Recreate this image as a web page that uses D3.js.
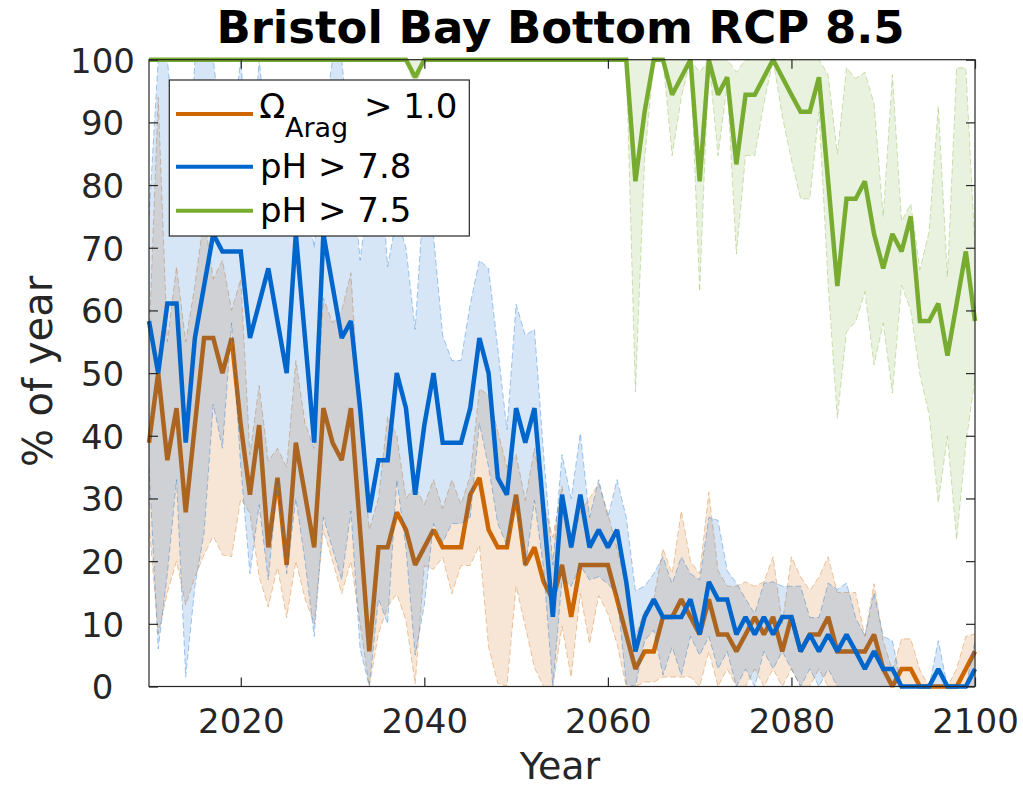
<!DOCTYPE html>
<html>
<head>
<meta charset="utf-8">
<script src="https://cdn.jsdelivr.net/npm/d3@7/dist/d3.min.js"></script>
<style>
  html, body { margin: 0; padding: 0; background: #fff; }
  svg { display: block; font-family: "DejaVu Sans", sans-serif; }
</style>
</head>
<body>
<svg id="chart" width="1023" height="788"></svg>
<script>
// ---------------- DATA ----------------
const years = [2010,2011,2012,2013,2014,2015,2016,2017,2018,2019,
  2020,2021,2022,2023,2024,2025,2026,2027,2028,2029,
  2030,2031,2032,2033,2034,2035,2036,2037,2038,2039,
  2040,2041,2042,2043,2044,2045,2046,2047,2048,2049,
  2050,2051,2052,2053,2054,2055,2056,2057,2058,2059,
  2060,2061,2062,2063,2064,2065,2066,2067,2068,2069,
  2070,2071,2072,2073,2074,2075,2076,2077,2078,2079,
  2080,2081,2082,2083,2084,2085,2086,2087,2088,2089,
  2090,2091,2092,2093,2094,2095,2096,2097,2098,2099,2100];

// Omega_Arag > 1.0 (orange)
const aragMean = [38.9,50,36.1,44.4,27.8,41.7,55.6,55.6,50,55.6,
  41.7,30.6,41.7,22.2,33.3,19.4,38.9,30.6,22.2,44.4,
  38.9,36.1,44.4,25,5.6,22.2,22.2,27.8,25,19.4,
  22.2,25,22.2,22.2,22.2,30.6,33.3,25,22.2,22.2,
  30.6,19.4,22.2,16.7,13.9,19.4,11.1,19.4,19.4,19.4,
  19.4,13.9,8.3,2.8,5.6,5.6,11.1,11.1,13.9,11.1,
  8.3,13.9,8.3,8.3,5.6,8.3,11.1,8.3,11.1,5.6,
  11.1,5.6,8.3,8.3,11.1,5.6,5.6,5.6,5.6,8.3,
  2.8,0,2.8,2.8,0,0,0,0,0,2.8,5.6];
const aragUpper = [55,94,55,67,55,64,75,65,68,60,
  65,37,48,36,38,35,52,42,38,62,
  58,60,66,42,25,30,43,40,30,32,
  29,33,28.4,33,29,33.6,47.5,46.5,40.7,35,
  37,29.7,38,29,23.8,32,22,28,30,32.4,
  27.6,22,16,8,12,14,22,18,28,20,
  18,31,18.5,16,16,16.7,16,16.7,20.7,10,
  20.7,17.5,15.3,17.5,20.7,15,15,15,8,16.4,
  7.3,2.6,7.6,7.6,2.6,0,0,0,2.8,8,8.4];
const aragLower = [26,8.4,15,20,13,17.5,21,24,21,20.7,
  30,27.6,17.5,12.7,19,11,20,14,10,25,
  20,14.8,20,10,0,8.4,12.7,14.8,10.5,0.4,
  19.3,18.7,20.6,14.8,19.3,19.3,22.5,6.3,0.5,0,
  16,9.6,3,0,0,9.6,1.5,14.8,6.8,14.5,
  11.6,6.8,0,0,0.7,0.7,1.5,1.5,1.5,1.5,
  0,5.6,0,2.8,0,0,2.8,0,2.8,0,
  2.8,0,0,2.8,0,0,0,0,0,0,
  0,0,0,0,0,0,0,0,0,0,0];

// pH > 7.8 (blue)
const ph78Mean = [58.3,50,61.1,61.1,38.9,55.6,63.9,72.2,69.4,69.4,
  69.4,55.6,61.1,66.7,58.3,50,72.2,55.6,38.9,72.2,
  63.9,55.6,58.3,44.4,27.8,36.1,36.1,50,44.4,30.6,
  41.7,50,38.9,38.9,38.9,44.4,55.6,50,33.3,30.6,
  44.4,38.9,44.4,27.8,11.1,30.6,22.2,30.6,22.2,25,
  22.2,25,16.7,5.6,11.1,13.9,11.1,11.1,11.1,13.9,
  8.3,16.7,13.9,13.9,8.3,11.1,8.3,11.1,8.3,11.1,
  11.1,5.6,8.3,5.6,8.3,5.6,8.3,5.6,2.8,5.6,
  2.8,2.8,0,0,0,0,2.8,0,0,0,2.8];
const ph78Upper = [75,100,100,85,72,100,100,100,88,88,
  100,80,100,86,80,75,88,80,70,90,
  100,100,85,68,80,88,67,75,70,57,
  80,72,56,52,52,61,68,66.7,54,41,
  61,56,57,37,19.4,37,30,40.4,27,33,
  27,33,27,15.3,16,18,20.7,16.4,20.7,18,
  17,27,26.5,18.5,16.5,14,11.6,16.5,16.7,16,
  16,16,11,11,16.5,15.5,16.5,11,8,15,
  8,7.3,0,0,0,0,7.3,0,0,0,7.3];
const ph78Lower = [35,6,18,33,1.5,16,24.5,45,38,58,
  35,18,29,17,33,18,30,20,8,27,
  22,17,28,6,0,14,10,33,22,5,
  13,26,23,26,26,27,42,35,26,22.5,
  30,19,29.7,18.7,0,17,16,19.3,17,17.5,
  16.4,14.8,0.4,0,7.3,9,1.8,6.3,1.8,8,
  5,8,2.8,5.6,0,2.8,0,5.6,2.8,5.6,
  2.8,0,2.8,0,2.8,0,0,0,0,0,
  0,0,0,0,0,0,0,0,0,0,0];

// pH > 7.5 (green)
const ph75Mean = [100,100,100,100,100,100,100,100,100,100,
  100,100,100,100,100,100,100,100,100,100,
  100,100,100,100,100,100,100,100,100,97.2,
  100,100,100,100,100,100,100,100,100,100,
  100,100,100,100,100,100,100,100,100,100,
  100,100,100,80.6,91.7,100,100,94.4,97.2,100,
  80.6,100,94.4,97.2,83.3,94.4,94.4,97.2,100,97.2,
  94.4,91.7,91.7,97.2,80.6,63.9,77.8,77.8,80.6,72.2,
  66.7,72.2,69.4,75,58.3,58.3,61.1,52.8,61.1,69.4,58.3];
const ph75Upper = [100,100,100,100,100,100,100,100,100,100,
  100,100,100,100,100,100,100,100,100,100,
  100,100,100,100,100,100,100,100,100,100,
  100,100,100,100,100,100,100,100,100,100,
  100,100,100,100,100,100,100,100,100,100,
  100,100,100,100,100,100,100,100,100,100,
  98,100,100,100,98,100,100,100,100,100,
  100,100,100,100,97.6,85,98.7,97,98,93,
  75,97.6,74.2,77,66.5,72.6,92.6,65.4,98.7,98.7,70];
const ph75Lower = [100,100,100,100,100,100,100,100,100,100,
  100,100,100,100,100,100,100,100,100,100,
  100,100,100,100,100,100,100,100,100,95.5,
  100,100,100,100,100,100,100,100,100,100,
  100,100,100,100,100,100,100,100,100,100,
  100,100,100,47,84,100,100,84.7,94,100,
  63,100,84.7,96,69,84.7,84.7,93,100,91,
  84,77.8,77.8,91.7,64,42.8,56.6,58.2,63,51.3,
  58,46.8,64,60,49.7,43.4,29.3,39.9,23.4,38.6,49.2];

const xTicks = [2020, 2040, 2060, 2080, 2100];
const yTicks = [0, 10, 20, 30, 40, 50, 60, 70, 80, 90, 100];
const titleText = "Bristol Bay Bottom RCP 8.5";
const xLabel = "Year";
const yLabel = "% of year";

const seriesDefs = [
  { mean: aragMean, upper: aragUpper, lower: aragLower, color: "#cc6600" },
  { mean: ph78Mean, upper: ph78Upper, lower: ph78Lower, color: "#0066cc" },
  { mean: ph75Mean, upper: ph75Upper, lower: ph75Lower, color: "#77ac30" }
];

// ---------------- LAYOUT ----------------
const svg = d3.select("#chart");
const X0 = 149, X1 = 975, Y0 = 686.5, Y1 = 59.7;
const x = d3.scaleLinear().domain([2010, 2100]).range([X0, X1]);
const y = d3.scaleLinear().domain([0, 100]).range([Y0, Y1]);
const axisColor = "#262626";
const tickFont = 34;

svg.append("defs").append("clipPath").attr("id", "plotclip")
  .append("rect").attr("x", X0).attr("y", Y1).attr("width", X1 - X0).attr("height", Y0 - Y1);

const plot = svg.append("g");

seriesDefs.forEach(s => {
  const pts = years.map((yr, i) => ({ yr, m: s.mean[i], u: s.upper[i], l: s.lower[i] }));
  const area = d3.area().x(d => x(d.yr)).y0(d => y(d.l)).y1(d => y(d.u));
  const g = plot.append("g");
  g.append("path").datum(pts).attr("d", area)
    .attr("fill", s.color).attr("fill-opacity", 0.16).attr("stroke", "none")
    .attr("clip-path", "url(#plotclip)");
  ["u", "l"].forEach(k => {
    g.append("path").datum(pts)
      .attr("d", d3.line().x(d => x(d.yr)).y(d => y(d[k])))
      .attr("fill", "none").attr("stroke", s.color).attr("stroke-opacity", 0.35)
      .attr("stroke-width", 1).attr("stroke-dasharray", "6,3")
      .attr("clip-path", "url(#plotclip)");
  });
  g.append("path").datum(pts)
    .attr("d", d3.line().x(d => x(d.yr)).y(d => y(d.m)))
    .attr("fill", "none").attr("stroke", s.color).attr("stroke-width", 4.5)
    .attr("stroke-linejoin", "miter").attr("stroke-miterlimit", 2);
});

// ---------------- AXES ----------------
const axG = svg.append("g");
axG.append("rect").attr("x", X0).attr("y", Y1).attr("width", X1 - X0).attr("height", Y0 - Y1)
  .attr("fill", "none").attr("stroke", axisColor).attr("stroke-width", 1.2);

function styleAxis(g) {
  g.select(".domain").remove();
  g.selectAll(".tick line").attr("stroke", axisColor).attr("stroke-width", 1.2);
  g.selectAll("text").attr("fill", axisColor).style("font-size", tickFont + "px")
    .style("font-family", "DejaVu Sans, sans-serif");
}

const xb = axG.append("g").attr("transform", `translate(0,${Y0})`)
  .call(d3.axisBottom(x).tickValues(xTicks).tickFormat(d3.format("d")).tickSize(-9).tickPadding(22.4));
styleAxis(xb);
const xt = axG.append("g").attr("transform", `translate(0,${Y1})`)
  .call(d3.axisTop(x).tickValues(xTicks).tickFormat("").tickSize(-9));
styleAxis(xt);
const yl = axG.append("g").attr("transform", `translate(${X0},0)`)
  .call(d3.axisLeft(y).tickValues(yTicks).tickFormat(d3.format("d")).tickSize(-9).tickPadding(46.5));
styleAxis(yl);
yl.selectAll("text").attr("text-anchor", "middle").attr("dy", null)
  .attr("y", tickFont * 0.3645);
const yr = axG.append("g").attr("transform", `translate(${X1},0)`)
  .call(d3.axisRight(y).tickValues(yTicks).tickFormat("").tickSize(-9));
styleAxis(yr);

// ---------------- LABELS ----------------
svg.append("text").attr("x", 560.5).attr("y", 43.3).attr("text-anchor", "middle")
  .style("font-size", "45px").style("font-weight", "bold").attr("fill", "#000").text(titleText);
svg.append("text").attr("x", 560).attr("y", 779).attr("text-anchor", "middle")
  .style("font-size", "38px").attr("fill", axisColor).text(xLabel);
svg.append("text").attr("transform", "translate(51.7,371.5) rotate(-90)").attr("text-anchor", "middle")
  .style("font-size", "40px").attr("fill", axisColor).text(yLabel);

// ---------------- LEGEND ----------------
const leg = svg.append("g");
leg.append("rect").attr("x", 169.3).attr("y", 80).attr("width", 300).attr("height", 156)
  .attr("fill", "#fff").attr("stroke", axisColor).attr("stroke-width", 1.2);
const legRows = [
  { color: seriesDefs[0].color, ly: 114 },
  { color: seriesDefs[1].color, ly: 166.7 },
  { color: seriesDefs[2].color, ly: 210.7 }
];
legRows.forEach(r => {
  leg.append("line").attr("x1", 176).attr("x2", 253).attr("y1", r.ly).attr("y2", r.ly)
    .attr("stroke", r.color).attr("stroke-width", 4);
});
leg.append("text").attr("x", 259.3).attr("y", 118).style("font-size", "34px").attr("fill", "#000").text("Ω");
leg.append("text").attr("x", 285).attr("y", 137).style("font-size", "27px").attr("fill", "#000").text("Arag");
leg.append("text").attr("x", 364).attr("y", 118).style("font-size", "34px").attr("fill", "#000").text("> 1.0");
leg.append("text").attr("x", 260).attr("y", 178).style("font-size", "34px").attr("fill", "#000").text("pH > 7.8");
leg.append("text").attr("x", 260).attr("y", 221.7).style("font-size", "34px").attr("fill", "#000").text("pH > 7.5");
</script>
</body>
</html>
